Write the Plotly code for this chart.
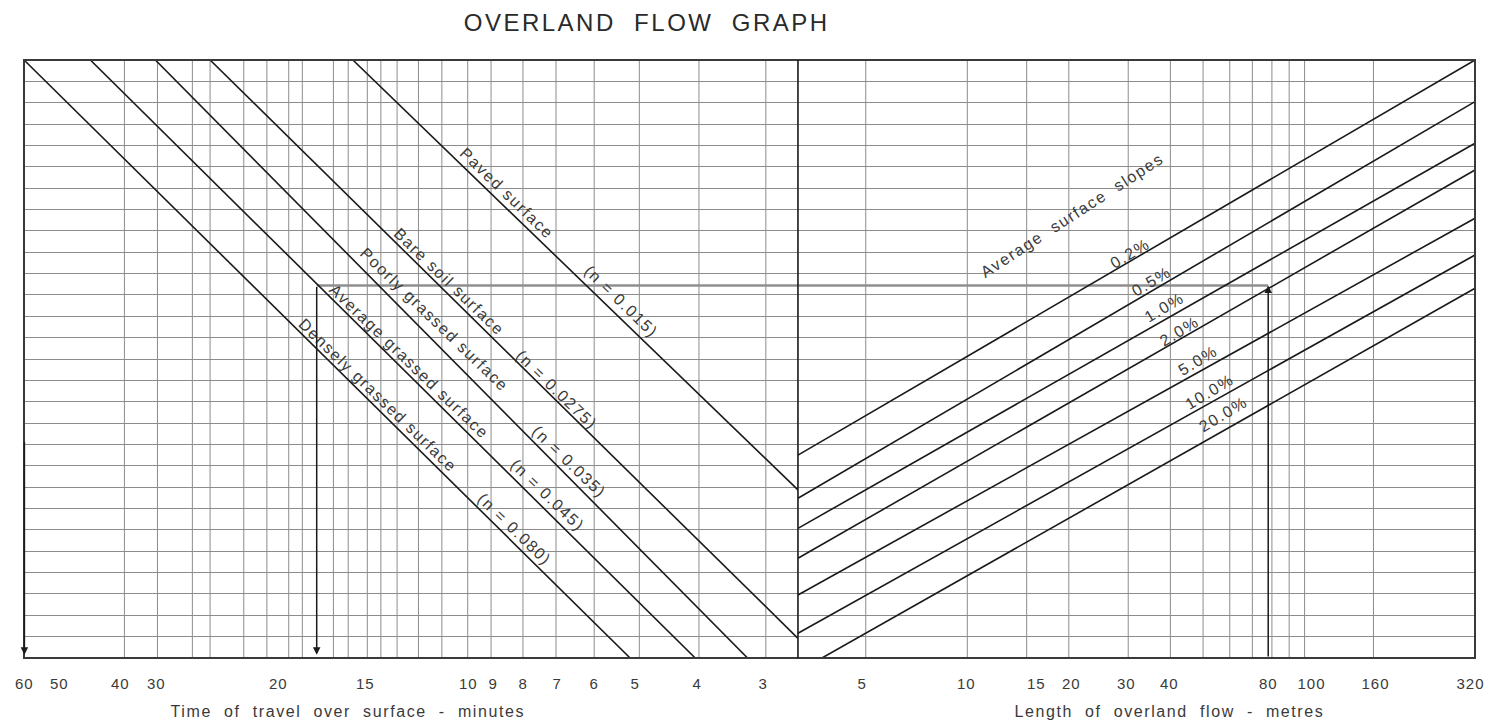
import numpy as np
import plotly.graph_objects as go

# left half: time of travel over surface (minutes), reversed log scale
time_range = [60, 2.635]
time_grid = [40, 35, 30.4, 28.3, 24.7, 22.5, 20.6, 19.5, 17.2, 16.2, 15, 14.2, 13.3,
             12.2, 11.1, 10, 9.1, 8, 7, 6, 5, 3.93, 3]
time_tick_text = ['60', '50', '40', '30', '20', '15', '10', '9', '8', '7', '6', '5', '4', '3']
time_tick_pos = [59.9, 51.9, 40.6, 35.2, 21.5, 15.1, 9.95, 9.03, 8.0, 6.97, 6.0, 5.09, 3.96, 3.04]

# right half: length of overland flow (metres), log scale
length_range = [3.148, 320]
length_grid = [5, 10, 15, 20, 30, 40, 50, 60, 70, 80, 90, 100, 160]
length_tick_text = ['5', '10', '15', '20', '30', '40', '80', '100', '160', '320']
length_tick_pos = [4.86, 9.96, 16.06, 20.4, 29.7, 39.7, 78, 104.5, 161.9, 309.7]

# unitless turning scale shared by both halves
y_top = 28

# surface type lines
surface_names = ['Paved surface', 'Bare soil surface', 'Poorly grassed surface',
                 'Average grassed surface', 'Densely grassed surface']
surface_n = ['(n = 0.015)', '(n = 0.0275)', '(n = 0.035)', '(n = 0.045)', '(n = 0.080)']
surface_t_start = [15.9, 28.3, 35.3, 45.9, 60]
surface_y_start = [28, 28, 28, 28, 28]
surface_t_end = [2.635, 2.635, 3.23, 3.99, 5.19]
surface_y_end = [7.87, 0.92, 0, 0, 0]
surface_label_t = [8.52, 10.78, 11.43, 12.67, 14.36]
surface_label_y = [21.77, 17.65, 15.87, 13.86, 12.31]
n_label_t = [5.38, 7.00, 6.65, 7.23, 8.26]
n_label_y = [16.67, 12.55, 9.18, 7.63, 6.04]

# average surface slope lines
slope_names = ['0.2%', '0.5%', '1.0%', '2.0%', '5.0%', '10.0%', '20.0%']
slope_l_start = [3.148, 3.148, 3.148, 3.148, 3.148, 3.148, 3.709]
slope_y_start = [9.50, 7.48, 6.07, 4.67, 2.95, 1.16, 0]
slope_l_end = [320, 320, 320, 320, 320, 320, 320]
slope_y_end = [28, 26.05, 24.10, 22.85, 20.59, 18.87, 17.31]
slope_label_l = [30.4, 35.05, 38.3, 42.4, 48.3, 52.4, 57.3]
slope_label_y = [18.92, 17.65, 16.43, 15.31, 13.91, 12.46, 11.38]

# worked example
example_length = 78
example_time = 18.4
example_y = 17.44

split = 0.5334
font = 'Liberation Sans, Arial, sans-serif'
ink = '#1a1a1a'
text_col = '#3a3a3a'
grid_col = '#8c8c8c'

fig = go.Figure()

# vertical grid of both scales
gx, gy = [], []
for t in time_grid:
    gx += [t, t, None]
    gy += [0, y_top, None]
fig.add_trace(go.Scatter(x=gx, y=gy, mode='lines', line=dict(color=grid_col, width=1),
                         xaxis='x', yaxis='y', hoverinfo='skip', showlegend=False))
gx, gy = [], []
for v in length_grid:
    gx += [v, v, None]
    gy += [0, y_top, None]
fig.add_trace(go.Scatter(x=gx, y=gy, mode='lines', line=dict(color=grid_col, width=1),
                         xaxis='x2', yaxis='y', hoverinfo='skip', showlegend=False))

# grey horizontal of the worked example
fig.add_trace(go.Scatter(x=[example_time, time_range[1]], y=[example_y, example_y], mode='lines',
                         line=dict(color='#8f8f8f', width=2.5), xaxis='x', yaxis='y',
                         hoverinfo='skip', showlegend=False))
fig.add_trace(go.Scatter(x=[length_range[0], example_length], y=[example_y, example_y], mode='lines',
                         line=dict(color='#8f8f8f', width=2.5), xaxis='x2', yaxis='y',
                         hoverinfo='skip', showlegend=False))

for i in range(len(surface_names)):
    fig.add_trace(go.Scatter(x=[surface_t_start[i], surface_t_end[i]],
                             y=[surface_y_start[i], surface_y_end[i]], mode='lines',
                             line=dict(color=ink, width=1.6), xaxis='x', yaxis='y',
                             hoverinfo='skip', showlegend=False))

for i in range(len(slope_names)):
    fig.add_trace(go.Scatter(x=[slope_l_start[i], slope_l_end[i]],
                             y=[slope_y_start[i], slope_y_end[i]], mode='lines',
                             line=dict(color=ink, width=1.6), xaxis='x2', yaxis='y',
                             hoverinfo='skip', showlegend=False))

annotations = []
for i in range(len(surface_names)):
    annotations.append(dict(x=np.log10(surface_label_t[i]), y=surface_label_y[i], xref='x', yref='y',
                            text=surface_names[i], showarrow=False, textangle=44,
                            font=dict(size=16, color=text_col, family=font)))
    annotations.append(dict(x=np.log10(n_label_t[i]), y=n_label_y[i], xref='x', yref='y',
                            text=surface_n[i], showarrow=False, textangle=44,
                            font=dict(size=16, color=text_col, family=font)))
for i in range(len(slope_names)):
    annotations.append(dict(x=np.log10(slope_label_l[i]), y=slope_label_y[i], xref='x2', yref='y',
                            text=slope_names[i], showarrow=False, textangle=-31,
                            font=dict(size=16, color=text_col, family=font)))
annotations.append(dict(x=np.log10(20.4), y=20.74, xref='x2', yref='y',
                        text='Average\u00a0\u00a0surface\u00a0\u00a0slopes', showarrow=False,
                        textangle=-33, font=dict(size=16, color=text_col, family=font)))

# tick labels of both scales
for pos, txt in zip(time_tick_pos, time_tick_text):
    annotations.append(dict(x=np.log10(pos), y=0, xref='x', yref='paper', xanchor='center',
                            yanchor='middle', yshift=-25, text=txt, showarrow=False,
                            font=dict(size=15, color=text_col, family=font)))
for pos, txt in zip(length_tick_pos, length_tick_text):
    annotations.append(dict(x=np.log10(pos), y=0, xref='x2', yref='paper', xanchor='center',
                            yanchor='middle', yshift=-25, text=txt, showarrow=False,
                            font=dict(size=15, color=text_col, family=font)))

# arrows of the worked example
arrow = dict(text='', showarrow=True, arrowhead=2, arrowsize=1, arrowwidth=1.5, arrowcolor=ink)
annotations.append(dict(x=np.log10(example_length), y=example_y, ax=np.log10(example_length), ay=0,
                        xref='x2', yref='y', axref='x2', ayref='y', **arrow))
annotations.append(dict(x=np.log10(example_time), y=0.15, ax=np.log10(example_time), ay=example_y,
                        xref='x', yref='y', axref='x', ayref='y', **arrow))
annotations.append(dict(x=np.log10(59.9), y=0.15, ax=np.log10(59.9), ay=10.2,
                        xref='x', yref='y', axref='x', ayref='y', **arrow))

# titles
annotations.append(dict(x=0.4287, y=1, xref='paper', yref='paper', xanchor='center', yanchor='middle',
                        yshift=38, text='OVERLAND\u00a0\u00a0FLOW\u00a0\u00a0GRAPH', showarrow=False,
                        font=dict(size=24, color='#2a2a2a', family=font)))
annotations.append(dict(x=0.2233, y=0, xref='paper', yref='paper', xanchor='center', yanchor='middle',
                        yshift=-53,
                        text='Time\u00a0\u00a0of\u00a0\u00a0travel\u00a0\u00a0over\u00a0\u00a0surface\u00a0\u00a0-\u00a0\u00a0minutes',
                        showarrow=False, font=dict(size=16, color=text_col, family=font)))
annotations.append(dict(x=0.7898, y=0, xref='paper', yref='paper', xanchor='center', yanchor='middle',
                        yshift=-53,
                        text='Length\u00a0\u00a0of\u00a0\u00a0overland\u00a0\u00a0flow\u00a0\u00a0-\u00a0\u00a0metres',
                        showarrow=False, font=dict(size=16, color=text_col, family=font)))

plain = dict(showgrid=False, zeroline=False, showline=False, ticks='', showticklabels=False)

fig.update_layout(
    width=1494, height=724,
    margin=dict(l=24, r=19, t=60, b=66),
    paper_bgcolor='white', plot_bgcolor='white',
    showlegend=False,
    xaxis=dict(type='log', domain=[0, split], anchor='y',
               range=[np.log10(time_range[0]), np.log10(time_range[1])], **plain),
    xaxis2=dict(type='log', domain=[split, 1], anchor='y',
                range=[np.log10(length_range[0]), np.log10(length_range[1])], **plain),
    yaxis=dict(range=[0, y_top], tick0=0, dtick=1, showgrid=True, gridcolor=grid_col, gridwidth=1,
               zeroline=False, showline=False, ticks='', showticklabels=False),
    annotations=annotations,
    shapes=[
        dict(type='rect', xref='paper', yref='paper', x0=0, y0=0, x1=1, y1=1,
             line=dict(color='#3a3a3a', width=2)),
        dict(type='line', xref='paper', yref='paper', x0=split, y0=0, x1=split, y1=1,
             line=dict(color=ink, width=1.6)),
    ],
)

page_js = """
document.body.style.margin = '0';
document.body.style.overflow = 'hidden';
document.querySelectorAll('.annotation-text').forEach(function(t){
  var s = t.textContent.indexOf('OVERLAND') >= 0 ? '2.5px' : '1.6px';
  if (/^[0-9]+$/.test(t.textContent)) { s = '1px'; }
  t.style.letterSpacing = s;
});
"""

fig.write_html("out.html", post_script=page_js, config={'displayModeBar': False})
